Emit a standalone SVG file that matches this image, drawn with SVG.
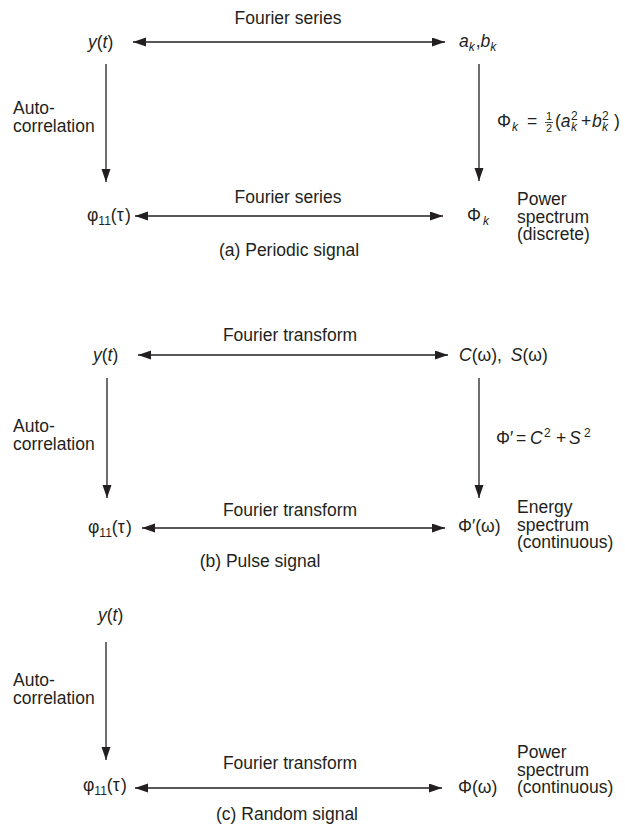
<svg xmlns="http://www.w3.org/2000/svg" width="625" height="828" viewBox="0 0 625 828">
<style>
  text { font-family: "Liberation Sans", Arial, Helvetica, sans-serif; font-size: 17.5px; fill: #231f20; }
  .i { font-style: italic; }
  .sub { font-size: 12px; }
  .frac { font-size: 11px; }
  .conn line { stroke: #231f20; stroke-width: 1.3; fill: none; }
  .bi { marker-start: url(#ah); marker-end: url(#ah); }
  .uni { marker-end: url(#ah); }
</style>
<defs>
  <marker id="ah" markerUnits="userSpaceOnUse" markerWidth="14" markerHeight="10" refX="13" refY="4.5" orient="auto-start-reverse">
    <path d="M0,0 L13,4.5 L0,9 Z" fill="#231f20"/>
  </marker>
</defs>
<rect width="625" height="828" fill="#ffffff"/>

<g class="conn" id="connectors">
  <line class="bi" x1="133" y1="42" x2="445" y2="42"/>
  <line class="uni" x1="106" y1="64" x2="106" y2="182"/>
  <line class="uni" x1="479" y1="64" x2="479" y2="181"/>
  <line class="bi" x1="135" y1="216" x2="443" y2="216"/>
  <line class="bi" x1="138" y1="355" x2="448" y2="355"/>
  <line class="uni" x1="107" y1="378" x2="107" y2="498"/>
  <line class="uni" x1="479" y1="378" x2="479" y2="498"/>
  <line class="bi" x1="142" y1="528" x2="445" y2="528"/>
  <line class="uni" x1="106" y1="642" x2="106" y2="760"/>
  <line class="bi" x1="135" y1="788" x2="442" y2="788"/>
</g>

<g id="connector-labels">
  <text x="288" y="24" text-anchor="middle">Fourier series</text>
  <text x="13" y="114">Auto-<tspan x="13" dy="17.5">correlation</tspan></text>
  <g id="a-formula">
    <text x="497" y="127">Φ<tspan class="sub i" x="512" y="131">k</tspan><tspan x="527" y="127">=</tspan><tspan class="frac" x="546" y="120">1</tspan><tspan class="frac" x="546" y="131.5">2</tspan><tspan x="555" y="127">(</tspan><tspan class="i">a</tspan><tspan class="sub i" x="571" y="131">k</tspan><tspan class="sub" x="571" y="120">2</tspan><tspan x="581" y="127">+</tspan><tspan class="i" x="592" y="127">b</tspan><tspan class="sub i" x="602" y="131">k</tspan><tspan class="sub" x="602" y="120">2</tspan><tspan x="614" y="127">)</tspan></text>
    <line x1="545" y1="122.5" x2="553" y2="122.5" stroke="#231f20" stroke-width="0.8"/>
  </g>
  <text x="288" y="203" text-anchor="middle">Fourier series</text>

  <text x="290" y="341" text-anchor="middle">Fourier transform</text>
  <text x="13" y="432">Auto-<tspan x="13" dy="17.5">correlation</tspan></text>
  <text x="496" y="444">Φ<tspan x="510">′</tspan><tspan x="516">=</tspan><tspan class="i" x="530">C</tspan><tspan class="sub" x="544" y="437">2</tspan><tspan x="556" y="444">+</tspan><tspan class="i" x="569">S</tspan><tspan class="sub" x="584" y="437">2</tspan></text>
  <text x="290" y="516" text-anchor="middle">Fourier transform</text>

  <text x="13" y="686">Auto-<tspan x="13" dy="17.5">correlation</tspan></text>
  <text x="290" y="769" text-anchor="middle">Fourier transform</text>
</g>

<g id="panel-a">
  <g id="a-yt"><text x="88" y="48"><tspan class="i">y</tspan>(<tspan class="i">t</tspan>)</text></g>
  <g id="a-akbk"><text x="459" y="47"><tspan class="i">a</tspan><tspan class="sub i" dy="4">k</tspan><tspan dy="-4" dx="1">,</tspan><tspan class="i">b</tspan><tspan class="sub i" dy="4">k</tspan></text></g>
  <g id="a-phi11"><text x="87" y="221">φ<tspan class="sub" dy="4">11</tspan><tspan dy="-4">(τ</tspan><tspan dx="1.5">)</tspan></text></g>
  <g id="a-Phik"><text x="467" y="221">Φ<tspan class="sub i" dy="4" dx="2">k</tspan></text></g>
  <g id="a-power"><text x="517" y="205">Power<tspan x="517" dy="17.5">spectrum</tspan><tspan x="517" dy="17.5">(discrete)</tspan></text></g>
  <text x="289" y="256" text-anchor="middle">(a) Periodic signal</text>
</g>

<g id="panel-b">
  <g id="b-yt"><text x="93" y="361"><tspan class="i">y</tspan>(<tspan class="i">t</tspan>)</text></g>
  <g id="b-CS"><text x="459" y="361"><tspan class="i">C</tspan>(ω),<tspan class="i" dx="9">S</tspan>(ω)</text></g>
  <g id="b-phi11"><text x="88" y="533">φ<tspan class="sub" dy="4">11</tspan><tspan dy="-4">(τ</tspan><tspan dx="1.5">)</tspan></text></g>
  <g id="b-Phiw"><text x="458" y="532">Φ′(ω)</text></g>
  <g id="b-energy"><text x="517" y="513">Energy<tspan x="517" dy="17.5">spectrum</tspan><tspan x="517" dy="17.5">(continuous)</tspan></text></g>
  <text x="260" y="567" text-anchor="middle">(b) Pulse signal</text>
</g>

<g id="panel-c">
  <g id="c-yt"><text x="98" y="621"><tspan class="i">y</tspan>(<tspan class="i">t</tspan>)</text></g>
  <g id="c-phi11"><text x="83" y="791">φ<tspan class="sub" dy="4">11</tspan><tspan dy="-4">(τ</tspan><tspan dx="1.5">)</tspan></text></g>
  <g id="c-Phiw"><text x="458" y="793">Φ(ω)</text></g>
  <g id="c-power"><text x="517" y="758">Power<tspan x="517" dy="17.5">spectrum</tspan><tspan x="517" dy="17.5">(continuous)</tspan></text></g>
  <text x="287" y="820" text-anchor="middle">(c) Random signal</text>
</g>
</svg>
